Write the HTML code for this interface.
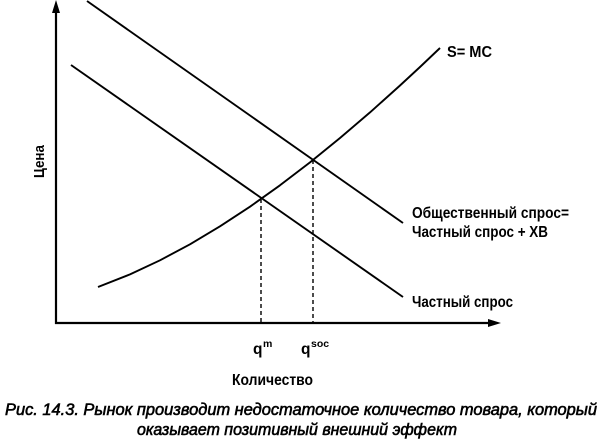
<!DOCTYPE html>
<html>
<head>
<meta charset="utf-8">
<style>
  html, body { margin:0; padding:0; background:#fff; }
  svg { display:block; }
  text { font-family: "Liberation Sans", "DejaVu Sans", sans-serif; fill:#000; }
</style>
</head>
<body>
<svg width="600" height="446" viewBox="0 0 600 446" xmlns="http://www.w3.org/2000/svg">
  <!-- Axes -->
  <line x1="56" y1="8" x2="56" y2="324" stroke="#000" stroke-width="2.2"/>
  <polygon points="56,0 52,13 60,13" fill="#000"/>
  <line x1="55" y1="323" x2="492" y2="323" stroke="#000" stroke-width="2.2"/>
  <polygon points="501,323 488,319 488,327" fill="#000"/>

  <!-- Social demand -->
  <line x1="87" y1="1" x2="403" y2="223" stroke="#000" stroke-width="1.9"/>
  <!-- Private demand -->
  <line x1="71" y1="65" x2="403" y2="297" stroke="#000" stroke-width="1.9"/>

  <!-- Supply -->
  <polyline fill="none" stroke="#000" stroke-width="1.9" stroke-linejoin="round"
    points="98,287 130,274.4 160,260.3 190,244.3 220,226.3 250,206.7 280,185.3 310,162.4 340,138 370,112.4 400,85.5 420,67 440,48"/>

  <!-- Dashed verticals -->
  <line x1="261" y1="199" x2="261" y2="323" stroke="#000" stroke-width="1.4" stroke-dasharray="4,3"/>
  <line x1="313" y1="160" x2="313" y2="323" stroke="#000" stroke-width="1.4" stroke-dasharray="4,3"/>

  <!-- Labels -->
  <text x="447" y="57" font-size="16" font-weight="bold" textLength="45" lengthAdjust="spacingAndGlyphs">S= MC</text>
  <text x="412" y="218" font-size="15.5" font-weight="bold" textLength="157" lengthAdjust="spacingAndGlyphs">Общественный спрос=</text>
  <text x="412" y="237" font-size="15.5" font-weight="bold" textLength="136" lengthAdjust="spacingAndGlyphs">Частный спрос + XB</text>
  <text x="412" y="307" font-size="15.5" font-weight="bold" textLength="101" lengthAdjust="spacingAndGlyphs">Частный спрос</text>

  <text transform="translate(44,178) rotate(-90)" font-size="15" font-weight="bold" textLength="33" lengthAdjust="spacingAndGlyphs">Цена</text>

  <text x="253" y="354" font-size="15.5" font-weight="bold">q</text>
  <text x="263" y="347" font-size="10.5" font-weight="bold">m</text>
  <text x="301" y="354" font-size="15.5" font-weight="bold">q</text>
  <text x="311" y="347" font-size="10.5" font-weight="bold">soc</text>

  <text x="232" y="385" font-size="15.5" font-weight="bold" textLength="81" lengthAdjust="spacingAndGlyphs">Количество</text>

  <!-- Caption -->
  <text x="5" y="415" font-size="16.5" font-style="italic" stroke="#000" stroke-width="0.6" textLength="592" lengthAdjust="spacingAndGlyphs">Рис. 14.3. Рынок производит недостаточное количество товара, который</text>
  <text x="137" y="435" font-size="16.5" font-style="italic" stroke="#000" stroke-width="0.6" textLength="320" lengthAdjust="spacingAndGlyphs">оказывает позитивный внешний эффект</text>
</svg>
</body>
</html>
